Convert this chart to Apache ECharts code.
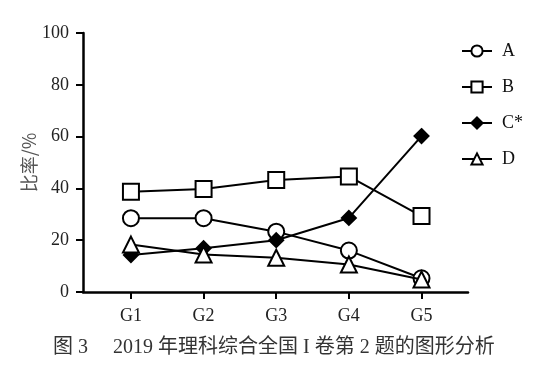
<!DOCTYPE html>
<html>
<head>
<meta charset="utf-8">
<script src="https://cdn.jsdelivr.net/npm/echarts@6/dist/echarts.min.js"></script>
<style>html,body{margin:0;padding:0;background:#fff}#c{width:541px;height:380px}</style>
</head>
<body>
<div id="c"></div>
<script>
var categories = ['G1', 'G2', 'G3', 'G4', 'G5'];
var seriesNames = ['A', 'B', 'C*', 'D'];
var valuesA = [28.5, 28.5, 23.3, 16.0, 5.3];
var valuesB = [38.7, 39.8, 43.2, 44.6, 29.3];
var valuesC = [14.3, 16.9, 20.0, 28.6, 60.2];
var valuesD = [18.3, 14.5, 13.2, 10.6, 4.8];
var yTicks = [0, 20, 40, 60, 80, 100];
var caption = '图 3\u3000 2019 年理科综合全国 I 卷第 2 题的图形分析';

var serif = '"Liberation Serif", "DejaVu Serif", "Noto Sans CJK SC", serif';
var allValues = [valuesA, valuesB, valuesC, valuesD];
var symbols = ['circle', 'rect', 'diamond', 'triangle'];
var sizes = [16, 16, 14, 16];

function pairs(arr) { return arr.map(function (v, i) { return [i + 1, v]; }); }

var series = seriesNames.map(function (name, k) {
  var filled = symbols[k] === 'diamond';
  return {
    name: name,
    type: 'line',
    data: pairs(allValues[k]),
    symbol: symbols[k],
    symbolSize: sizes[k],
    showAllSymbol: true,
    lineStyle: { color: '#000', width: 2 },
    itemStyle: { color: filled ? '#000' : '#fff', borderColor: '#000', borderWidth: 2 },
    emphasis: { disabled: true },
    z: 2 + k
  };
});

var chart = echarts.init(document.getElementById('c'), null, { renderer: 'canvas' });
chart.setOption({
  animation: false,
  backgroundColor: '#fff',
  title: {
    text: caption,
    left: 48,
    top: 333,
    textStyle: { fontFamily: serif, fontSize: 20, fontWeight: 'normal', color: '#333' }
  },
  legend: {
    orient: 'vertical',
    left: 456,
    top: 37,
    itemWidth: 30,
    itemHeight: 14,
    itemGap: 18,
    textStyle: { fontFamily: serif, fontSize: 18, color: '#111', padding: [0, 0, 0, 5] },
    data: seriesNames
  },
  grid: { left: 83, right: 73, top: 33, bottom: 88, containLabel: false },
  xAxis: {
    type: 'value',
    min: 0.34,
    max: 5.64,
    splitLine: { show: false },
    axisLine: { lineStyle: { color: '#000', width: 2.5 } },
    axisTick: { customValues: [1, 2, 3, 4, 5], length: 7, lineStyle: { color: '#000', width: 2 } },
    axisLabel: {
      customValues: [1, 2, 3, 4, 5],
      formatter: function (v) { return categories[Math.round(v) - 1] || ''; },
      fontFamily: serif, fontSize: 18, color: '#222', margin: 15
    }
  },
  yAxis: {
    type: 'value',
    min: 0,
    max: 100,
    interval: 20,
    name: '比率/%',
    nameLocation: 'middle',
    nameGap: 45,
    nameMoveOverlap: false,
    nameTextStyle: { fontFamily: '"Noto Sans CJK SC", sans-serif', fontSize: 18, color: '#555' },
    splitLine: { show: false },
    axisLine: { show: true, lineStyle: { color: '#000', width: 2.5 } },
    axisTick: { show: true, length: 7, lineStyle: { color: '#000', width: 2 } },
    axisLabel: {
      formatter: function (v) { return yTicks.indexOf(v) >= 0 ? String(v) : ''; },
      fontFamily: serif, fontSize: 18, color: '#222', margin: 14
    }
  },
  series: series
});
</script>
</body>
</html>
